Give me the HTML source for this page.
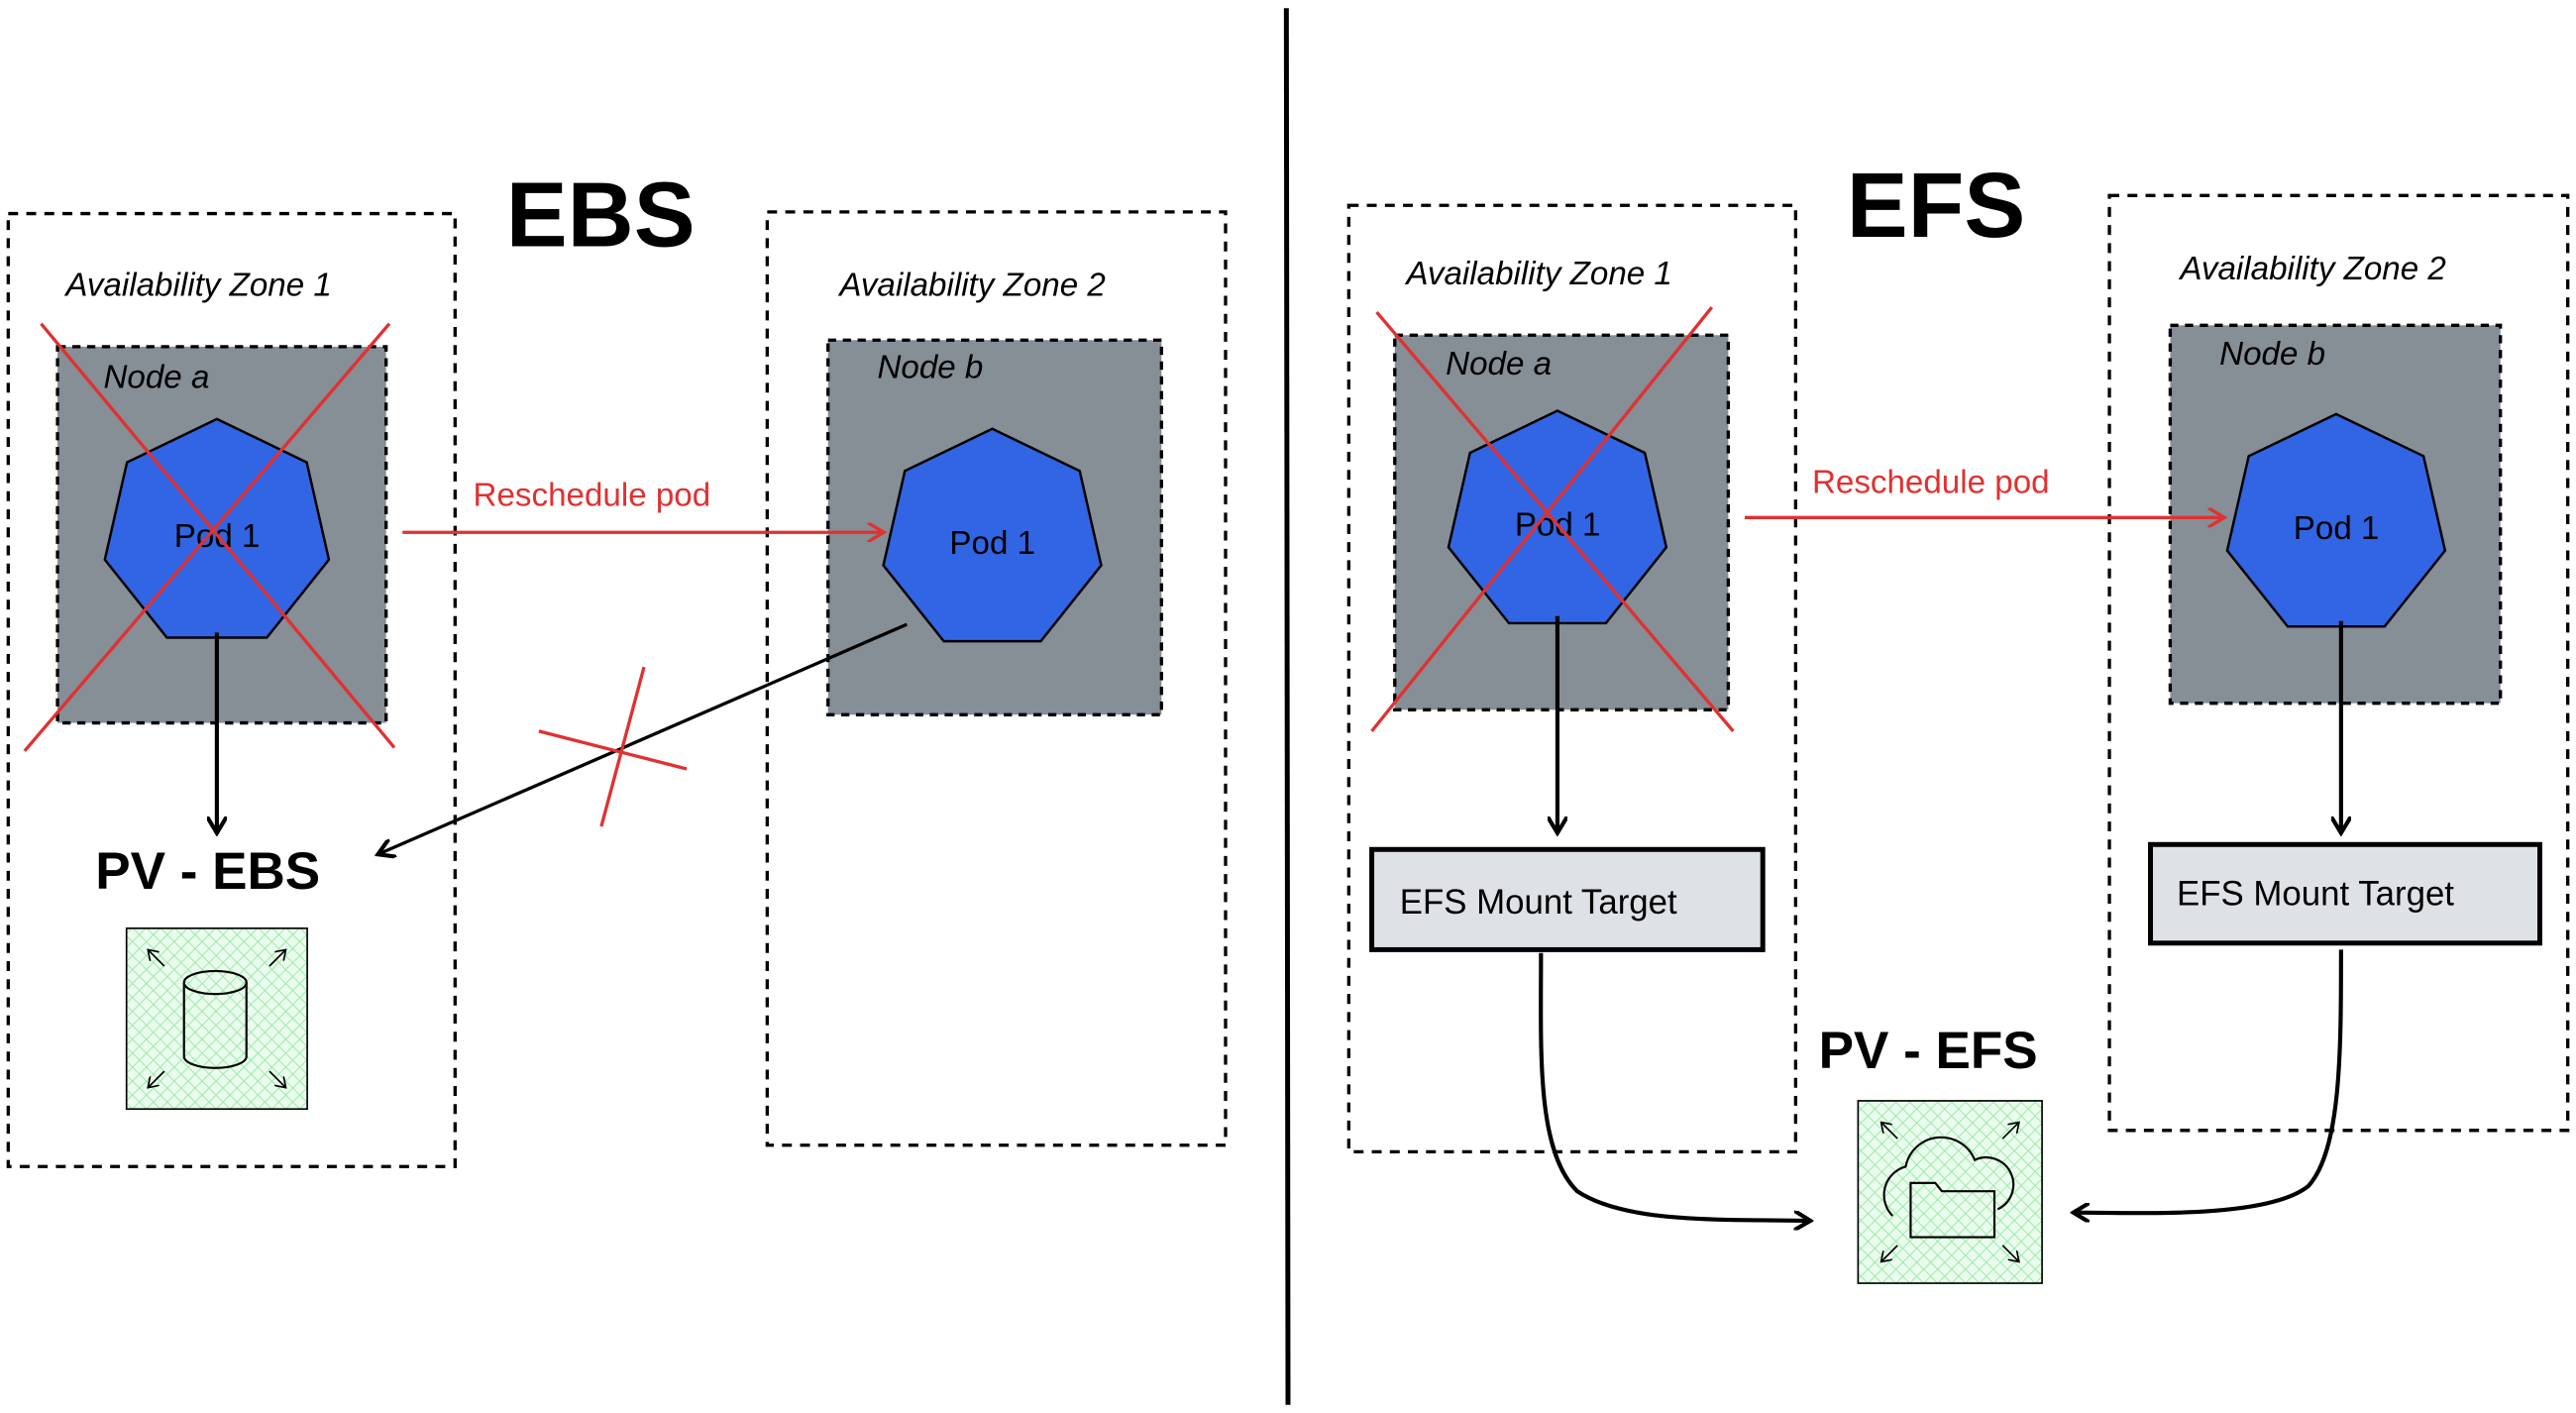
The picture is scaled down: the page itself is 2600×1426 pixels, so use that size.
<!DOCTYPE html>
<html><head><meta charset="utf-8"><style>
html,body{margin:0;padding:0;background:#fff;}
svg{display:block}
text{font-family:"Liberation Sans",sans-serif;}
</style></head><body>
<svg id="s" width="2600" height="1426" viewBox="0 0 1568 860" xmlns="http://www.w3.org/2000/svg">
<defs>
<pattern id="h" width="6" height="6" patternUnits="userSpaceOnUse" patternTransform="rotate(45)">
<rect width="6" height="6" fill="#ebfbee"/>
<line x1="0" y1="0" x2="0" y2="6" stroke="#8ce99a" stroke-width="1"/>
<line x1="0" y1="0" x2="6" y2="0" stroke="#8ce99a" stroke-width="1"/>
</pattern>
<marker id="ab" markerWidth="12" markerHeight="12" refX="10" refY="6" orient="auto" markerUnits="userSpaceOnUse"><path d="M0,0 L10,6 L0,12" fill="none" stroke="#000" stroke-width="2.5"/></marker>
<marker id="ar" markerWidth="12" markerHeight="12" refX="10" refY="6" orient="auto" markerUnits="userSpaceOnUse"><path d="M0,0 L10,6 L0,12" fill="none" stroke="#e03131" stroke-width="2"/></marker>
<marker id="as" markerWidth="8" markerHeight="8" refX="6" refY="4" orient="auto" markerUnits="userSpaceOnUse"><path d="M0,0 L6,4 L0,8" fill="none" stroke="#000" stroke-width="1"/></marker>
</defs>
<line x1="783" y1="5" x2="784" y2="855" stroke="#000" stroke-width="3"/>
<g fill="none" stroke="#000" stroke-width="2" stroke-dasharray="6,5">
<rect x="5" y="130" width="272" height="580"/>
<rect x="467" y="129" width="279" height="568"/>
<rect x="821" y="125" width="272" height="576"/>
<rect x="1284" y="119" width="279" height="569"/>
</g>
<g fill="#868e96" stroke="#000" stroke-width="2" stroke-dasharray="5,4">
<rect x="35" y="211" width="200" height="229"/>
<rect x="504" y="207" width="203" height="228"/>
<rect x="849" y="204" width="203" height="228"/>
<rect x="1321" y="198" width="201" height="230"/>
</g>
<g font-size="56" font-weight="bold"><text x="308" y="150">EBS</text><text x="1124" y="144">EFS</text></g>
<g font-size="20" font-style="italic">
<text x="40" y="180">Availability Zone 1</text>
<text x="511" y="180">Availability Zone 2</text>
<text x="856" y="173">Availability Zone 1</text>
<text x="1327" y="170">Availability Zone 2</text>
<text x="63" y="236">Node a</text><text x="534" y="230">Node b</text>
<text x="880" y="228">Node a</text><text x="1351" y="222">Node b</text>
</g>
<g id="pods"></g>
<g stroke="#000" stroke-width="2.5" fill="none">
<line x1="132" y1="385" x2="132" y2="507" marker-end="url(#ab)"/>
<line x1="552" y1="380" x2="230" y2="520" marker-end="url(#ab)" stroke-width="2"/>
<line x1="948" y1="375" x2="948" y2="507" marker-end="url(#ab)"/>
<line x1="1425" y1="378" x2="1425" y2="507" marker-end="url(#ab)"/>
<path d="M938,580 C938,640 935,700 960,725 C990,745 1050,742 1102,743" marker-end="url(#ab)"/>
<path d="M1425,578 C1425,640 1425,700 1405,722 C1380,742 1300,738 1262,738" marker-end="url(#ab)"/>
</g>
<g stroke="#e03131" stroke-width="2" fill="none">
<line x1="245" y1="324" x2="538" y2="324" marker-end="url(#ar)"/>
<line x1="1062" y1="315" x2="1354" y2="315" marker-end="url(#ar)"/>
<line x1="25" y1="197" x2="240" y2="455"/><line x1="237" y1="197" x2="15" y2="457"/>
<line x1="838" y1="190" x2="1055" y2="445"/><line x1="1042" y1="187" x2="835" y2="445"/>
<line x1="328" y1="445" x2="418" y2="468"/><line x1="392" y1="406" x2="366" y2="503"/>
</g>
<g fill="#e03131" font-size="20"><text x="288" y="308">Reschedule pod</text><text x="1103" y="300">Reschedule pod</text></g>
<g font-size="32" font-weight="bold"><text x="58" y="541">PV - EBS</text><text x="1107" y="650">PV - EFS</text></g>
<g fill="#dee2e6" stroke="#000" stroke-width="3">
<rect x="835" y="517" width="238" height="61"/><rect x="1309" y="514" width="237" height="60"/>
</g>
<g font-size="21"><text x="852" y="556">EFS Mount Target</text><text x="1325" y="551">EFS Mount Target</text></g>
<g stroke="#000" stroke-width="1">
<rect x="77" y="565" width="110" height="110" fill="url(#h)"/>
<rect x="1131" y="670" width="112" height="111" fill="url(#h)"/>
</g>
<g fill="none" stroke="#000" stroke-width="1.3">
<path d="M112,598 v45 a19,7 0 0 0 38,0 v-45"/><ellipse cx="131" cy="598" rx="19" ry="7"/>
<path d="M1152,740 a18,18 0 0 1 8,-30 a22,22 0 0 1 42,-4 a16,16 0 0 1 14,30"/>
<path d="M1163,720 h15 l4,5 h32 v28 h-51z"/>
</g>
<g stroke="#000" stroke-width="1" fill="none">
<line x1="100" y1="588" x2="90" y2="578" marker-end="url(#as)"/>
<line x1="164" y1="588" x2="174" y2="578" marker-end="url(#as)"/>
<line x1="100" y1="652" x2="90" y2="662" marker-end="url(#as)"/>
<line x1="164" y1="652" x2="174" y2="662" marker-end="url(#as)"/>
<line x1="1155" y1="693" x2="1145" y2="683" marker-end="url(#as)"/>
<line x1="1219" y1="693" x2="1229" y2="683" marker-end="url(#as)"/>
<line x1="1155" y1="758" x2="1145" y2="768" marker-end="url(#as)"/>
<line x1="1219" y1="758" x2="1229" y2="768" marker-end="url(#as)"/>
</g>
</svg>
<script>
const g=document.getElementById('pods');
[[132,320,70],[604,324,68],[948,313,68],[1422,315,68]].forEach(([cx,cy,r],i)=>{
let p=[];for(let k=0;k<7;k++){let a=-Math.PI/2+k*2*Math.PI/7;p.push((cx+r*Math.cos(a)).toFixed(1)+','+(cy+5+r*Math.sin(a)).toFixed(1));}
g.innerHTML+=`<polygon points="${p.join(' ')}" fill="#3165e3" stroke="#000" stroke-width="1.5"/><text x="${cx-26}" y="${cy+13}" font-size="20">Pod 1</text>`;
});
</script>
</body></html>
